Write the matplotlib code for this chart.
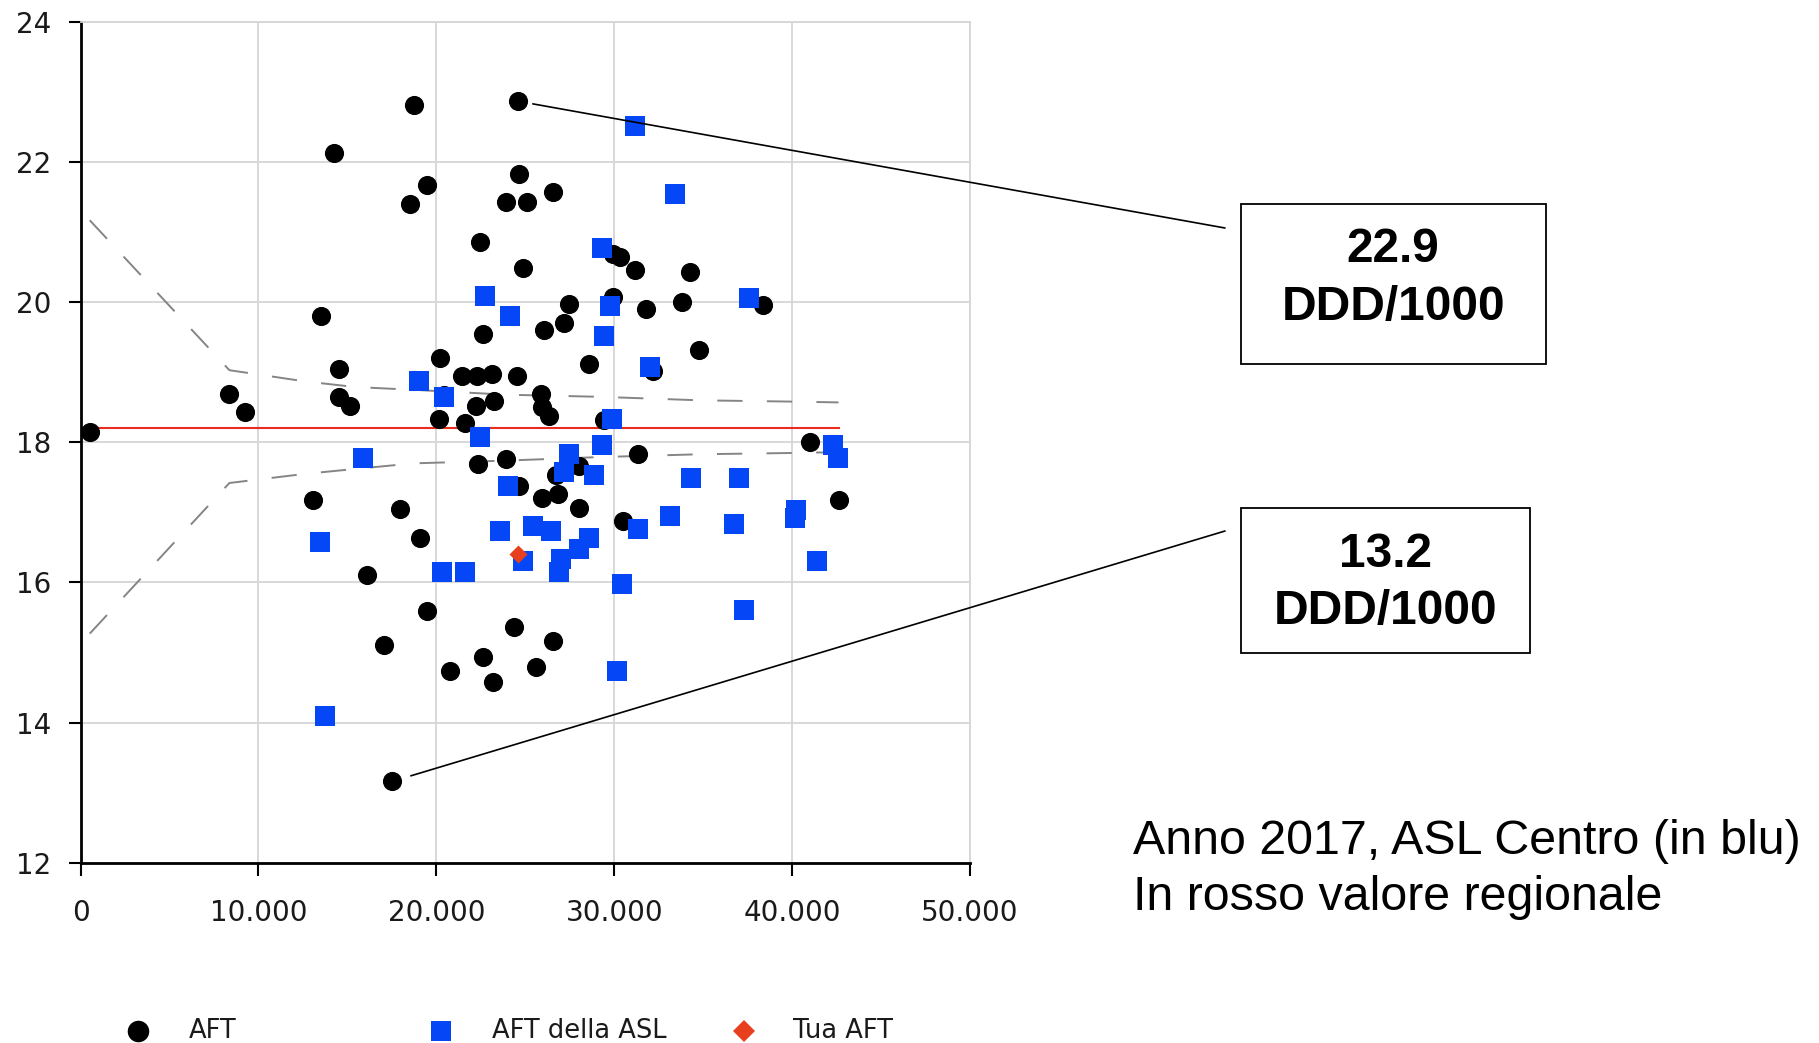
import matplotlib
matplotlib.use("Agg")
import matplotlib.pyplot as plt
from matplotlib.lines import Line2D
from matplotlib.patches import Rectangle

# ---------------- data ----------------
# All AFT (black circles): population (x) and DDD/1000 (y)
aft_x = [520, 8370, 9220, 14250, 18760, 19480, 18500, 13530, 14510, 14510,
         15160, 13070, 17970, 19090, 16080, 19480, 17060, 20780, 22610, 23200,
         24380, 25620, 26540, 17520, 24580, 24640, 23920, 25100, 26540, 22480,
         24900, 27450, 27190, 26080, 22610, 20200, 21440, 22290, 23140, 24510,
         20460, 20130, 21630, 22220, 23270, 22350, 23920, 24640, 25880, 25950,
         26340, 25950, 26860, 26730, 28040, 28040, 28560, 29940, 29940, 30330,
         31180, 31770, 33790, 34250, 34770, 32160, 29410, 31310, 30520, 38370,
         40980, 42610]
aft_y = [18.15, 18.69, 18.44, 22.13, 22.81, 21.68, 21.40, 19.81, 19.05, 18.65,
         18.52, 17.18, 17.05, 16.63, 16.11, 15.59, 15.11, 14.73, 14.93, 14.58,
         15.36, 14.80, 15.16, 13.16, 22.87, 21.83, 21.43, 21.43, 21.58, 20.86,
         20.49, 19.98, 19.70, 19.60, 19.55, 19.20, 18.94, 18.95, 18.98, 18.95,
         18.67, 18.34, 18.27, 18.52, 18.59, 17.69, 17.76, 17.38, 18.69, 18.51,
         18.37, 17.21, 17.26, 17.53, 17.66, 17.07, 19.12, 20.08, 20.69, 20.64,
         20.46, 19.91, 20.01, 20.43, 19.32, 19.02, 18.32, 17.83, 16.88, 19.96,
         18.01, 17.18]

# AFT of the ASL (blue squares)
asl_x = [31180, 33430, 29310, 22750, 29740, 24160, 37550, 29440, 32020, 19030,
         20460, 22470, 29870, 29310, 27460, 27160, 28870, 24040, 15860, 34330,
         37010, 42300, 42560, 33160, 31340, 36730, 40240, 40140, 41420, 37290,
         30450, 30140, 13470, 13750, 20300, 21620, 23590, 25460, 26450, 24890,
         26880, 27010, 28000, 28610]
asl_y = [22.52, 21.54, 20.78, 20.09, 19.95, 19.80, 20.06, 19.52, 19.08, 18.87,
         18.65, 18.07, 18.33, 17.96, 17.84, 17.58, 17.53, 17.38, 17.77, 17.49,
         17.49, 17.96, 17.78, 16.95, 16.77, 16.84, 17.03, 16.92, 16.30, 15.61,
         15.98, 14.74, 16.58, 14.09, 16.15, 16.15, 16.73, 16.81, 16.73, 16.30,
         16.15, 16.33, 16.48, 16.63]

# Your AFT (red diamond)
tua_x = [24600]
tua_y = [16.41]

# Regional value (red line)
regional_value = 18.20

# Funnel control limits (grey dashed)
funnel_x = [520, 8370, 12620, 15430, 18710, 23960, 29200, 34820, 40440, 42610]
funnel_upper = [21.17, 19.03, 18.87, 18.79, 18.75, 18.68, 18.65, 18.60, 18.58, 18.57]
funnel_lower = [15.27, 17.42, 17.55, 17.62, 17.70, 17.74, 17.79, 17.83, 17.85, 17.86]

x_ticks = [0, 10000, 20000, 30000, 40000, 50000]
x_tick_labels = ["0", "10.000", "20.000", "30.000", "40.000", "50.000"]
y_ticks = [12, 14, 16, 18, 20, 22, 24]
y_tick_labels = ["12", "14", "16", "18", "20", "22", "24"]

legend_labels = ["AFT", "AFT della ASL", "Tua AFT"]
annot_values = ["22.9", "13.2"]
annot_unit = "DDD/1000"
note_lines = ["Anno 2017, ASL Centro (in blu)", "In rosso valore regionale"]

# ---------------- styling ----------------
W, H = 1819, 1043
BLACK = "#000000"
BLUE = "#0547f7"
RED_MARK = "#e8401e"
RED_LINE = "#ea2b1f"
GRID = "#d6d6d6"
DASH = "#858585"

plt.rcParams["font.family"] = ["DejaVu Sans"]

fig = plt.figure(figsize=(W / 100, H / 100), dpi=100)


def fx(px):
    return px / W


def fy(py):
    return 1 - py / H


ax = fig.add_axes([fx(80.5), fy(862.7), (970 - 80.5) / W, (862.7 - 22) / H])
ax.set_xlim(0, 50000)
ax.set_ylim(12, 24)
ax.set_xticks(x_ticks)
ax.set_xticklabels(x_tick_labels)
ax.set_yticks(y_ticks)
ax.set_yticklabels(y_tick_labels)
ax.grid(True, color=GRID, lw=1.3)
ax.set_axisbelow(True)
for s in ["left", "bottom"]:
    ax.spines[s].set_color(BLACK)
    ax.spines[s].set_linewidth(2.0)
for s in ["top", "right"]:
    ax.spines[s].set_color(GRID)
    ax.spines[s].set_linewidth(1.3)
ax.tick_params(axis="both", direction="out", length=9, width=1.5,
               labelsize=20, colors=BLACK, top=False, right=False)
ax.tick_params(axis="x", pad=17)
ax.tick_params(axis="y", pad=12)
for lab in ax.get_xticklabels() + ax.get_yticklabels():
    lab.set_color("#1a1a1a")

# funnel limits
ax.plot(funnel_x, funnel_upper, color=DASH, lw=1.4, ls=(0, (13, 12.5)), zorder=2)
ax.plot(funnel_x, funnel_lower, color=DASH, lw=1.4, ls=(0, (13, 12.5)), zorder=2)

# regional line
all_x = aft_x + asl_x + tua_x
ax.plot([min(all_x), max(all_x)], [regional_value, regional_value],
        color=RED_LINE, lw=1.5, zorder=2)

# points
ax.scatter(aft_x, aft_y, s=190, marker="o", color=BLACK, linewidths=0, zorder=3)
ax.scatter(asl_x, asl_y, s=205, marker="s", color=BLUE, linewidths=0, zorder=4)
ax.scatter(tua_x, tua_y, s=84, marker="D", color=RED_MARK, linewidths=0, zorder=5)

# annotations for max and min
i_max = aft_y.index(max(aft_y))
i_min = aft_y.index(min(aft_y))
ax.annotate("", xy=(aft_x[i_max], aft_y[i_max]), xycoords="data",
            xytext=(1225, H - 228), textcoords="figure pixels",
            arrowprops=dict(arrowstyle="-", color=BLACK, lw=1.2, shrinkA=0, shrinkB=11),
            annotation_clip=False, zorder=6)
ax.annotate("", xy=(aft_x[i_min], aft_y[i_min]), xycoords="data",
            xytext=(1225, H - 531), textcoords="figure pixels",
            arrowprops=dict(arrowstyle="-", color=BLACK, lw=1.2, shrinkA=0, shrinkB=14),
            annotation_clip=False, zorder=6)

boxes = [((1240.7, 204, 1545.7, 364), 261.7, 320),
         ((1240.7, 508, 1529.7, 652.7), 566.7, 624)]
for k, ((x0, y0, x1, y1), b1, b2) in enumerate(boxes):
    rect = Rectangle((fx(x0), fy(y1)), (x1 - x0) / W, (y1 - y0) / H,
                     transform=fig.transFigure, fill=False, edgecolor=BLACK, lw=1.3)
    fig.add_artist(rect)
    cx = fx((x0 + x1) / 2)
    fig.text(cx, fy(b1), annot_values[k], ha="center", va="baseline",
             fontsize=34.5, fontweight="bold", family="Liberation Sans")
    fig.text(cx, fy(b2), annot_unit, ha="center", va="baseline",
             fontsize=34.5, fontweight="bold", family="Liberation Sans")

# note text
fig.text(fx(1132.7), fy(854), note_lines[0], ha="left", va="baseline",
         fontsize=34.8, family="Liberation Sans")
fig.text(fx(1132.7), fy(910), note_lines[1], ha="left", va="baseline",
         fontsize=34.8, family="Liberation Sans")

# legend (manual)
leg_y = fy(1031)
leg_markers = [("o", BLACK, 15.5), ("s", BLUE, 14.5), ("D", RED_MARK, 11.5)]
leg_mx = [138, 441, 744]
leg_tx = [189, 492, 793]
for k in range(3):
    m, c, ms = leg_markers[k]
    fig.add_artist(Line2D([fx(leg_mx[k])], [leg_y], marker=m, color=c, markersize=ms,
                          markeredgewidth=0, linestyle="none", transform=fig.transFigure))
    fig.text(fx(leg_tx[k]), leg_y, legend_labels[k], ha="left", va="center",
             fontsize=18.5, color="#1a1a1a")

fig.savefig("out.png", dpi=100)
